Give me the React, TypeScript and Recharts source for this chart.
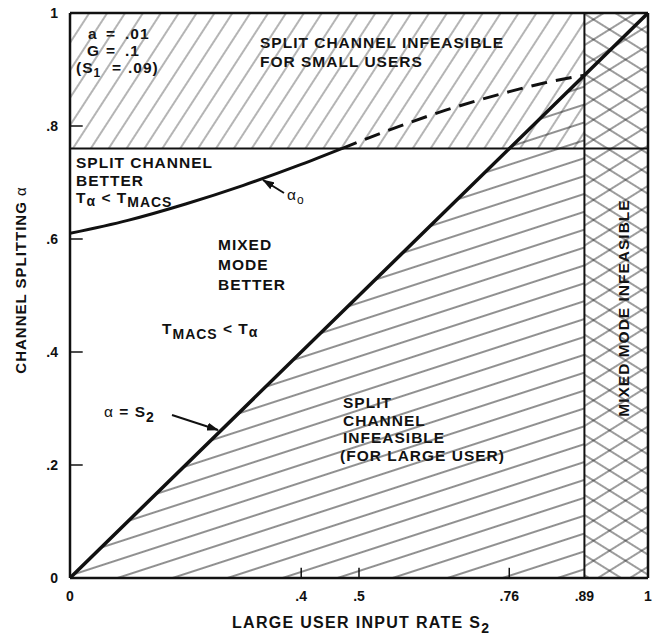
import { ComposedChart, Line, Area, XAxis, YAxis, ReferenceArea, ReferenceLine } from "recharts";

// tick positions and their printed labels
const xTicks = [0, 0.4, 0.5, 0.76, 0.89, 1];
const xTickLabels = ["0", ".4", ".5", ".76", ".89", "1"];
const yTicks = [0, 0.2, 0.4, 0.6, 0.8, 1];
const yTickLabels = ["0", ".2", ".4", ".6", ".8", "1"];

// alpha_0 curve, solid part (below alpha = .76)
const alphaSolidX = [0, 0.1, 0.2, 0.3, 0.4, 0.47];
const alphaSolidY = [0.61, 0.633, 0.662, 0.695, 0.732, 0.76];
// alpha_0 curve, dashed part (inside the infeasible band)
const alphaDashX = [0.47, 0.55, 0.65, 0.75, 0.82, 0.89];
const alphaDashY = [0.76, 0.792, 0.828, 0.858, 0.876, 0.89];

// alpha = S2 line
const s2X = [0, 0.89, 1];
const s2Y = [0, 0.89, 1];

// region limits
const alphaLimit = 0.76;
const s2Limit = 0.89;

const toPts = (xs: number[], ys: number[]) => xs.map((x, i) => ({ x, y: ys[i] }));
const alphaSolid = toPts(alphaSolidX, alphaSolidY);
const alphaDash = toPts(alphaDashX, alphaDashY);
const s2Line = toPts(s2X, s2Y);
const s2Hatch = s2Line.filter((p) => p.x <= s2Limit);

const FONT = "'Liberation Sans', Arial, Helvetica, sans-serif";
const txt = { fontFamily: FONT, fontWeight: 700, fontSize: 15.5, fill: "#111", letterSpacing: 1 } as const;
const sub = (s: string, size = 12, shift = 4) => (
  <tspan baselineShift={-shift} fontSize={size}>{s}</tspan>
);

export default function App() {
  return (
    <div style={{ position: "absolute", left: 0, top: 0, width: 660, height: 642, background: "#fff" }}>
      <ComposedChart width={660} height={642} margin={{ top: 13, right: 12, left: 0, bottom: 0 }}>
        <defs>
          <pattern id="steep" patternUnits="userSpaceOnUse" width="15" height="15" patternTransform="rotate(33)">
            <line x1="7" y1="0" x2="7" y2="15" stroke="#444" strokeWidth="0.8" />
          </pattern>
          <pattern id="shallow" patternUnits="userSpaceOnUse" width="17" height="17" patternTransform="rotate(-18)">
            <line x1="0" y1="8" x2="17" y2="8" stroke="#222" strokeWidth="1" />
          </pattern>
          <pattern id="crossA" patternUnits="userSpaceOnUse" width="17" height="17" patternTransform="rotate(-32)">
            <line x1="0" y1="8" x2="17" y2="8" stroke="#222" strokeWidth="0.9" />
          </pattern>
          <pattern id="crossB" patternUnits="userSpaceOnUse" width="17" height="17" patternTransform="rotate(32)">
            <line x1="0" y1="8" x2="17" y2="8" stroke="#222" strokeWidth="0.9" />
          </pattern>
          <marker id="arrow" markerWidth="12" markerHeight="8" refX="11" refY="4" orient="auto" markerUnits="userSpaceOnUse">
            <path d="M0,0 L12,4 L0,8 z" fill="#111" />
          </marker>
        </defs>

        <XAxis
          type="number"
          dataKey="x"
          domain={[0, 1]}
          ticks={xTicks}
          tickFormatter={(v: number) => xTickLabels[xTicks.indexOf(v)]}
          height={64}
          tickSize={0}
          tickMargin={13}
          axisLine={{ stroke: "#111", strokeWidth: 2.5 }}
          tick={{ fill: "#111", fontSize: 14, fontWeight: 700, fontFamily: FONT }}
          allowDataOverflow
        />
        <YAxis
          type="number"
          dataKey="y"
          domain={[0, 1]}
          ticks={yTicks}
          tickFormatter={(v: number) => yTickLabels[yTicks.indexOf(v)]}
          width={70}
          tickSize={0}
          tickMargin={12}
          axisLine={{ stroke: "#111", strokeWidth: 2.5 }}
          tick={{ fill: "#111", fontSize: 14, fontWeight: 700, fontFamily: FONT }}
          allowDataOverflow
        />

        {/* hatched regions */}
        <ReferenceArea x1={0} x2={s2Limit} y1={alphaLimit} y2={1} fill="url(#steep)" fillOpacity={1} stroke="none" />
        <ReferenceArea x1={s2Limit} x2={1} y1={0} y2={1} fill="url(#crossA)" fillOpacity={1} stroke="none" />
        <ReferenceArea x1={s2Limit} x2={1} y1={0} y2={1} fill="url(#crossB)" fillOpacity={1} stroke="none" />
        <Area
          data={s2Hatch}
          dataKey="y"
          type="linear"
          baseValue={0}
          stroke="none"
          fill="url(#shallow)"
          fillOpacity={1}
          isAnimationActive={false}
          dot={false}
          activeDot={false}
        />

        {/* frame and boundaries */}
        <ReferenceLine y={1} stroke="#111" strokeWidth={2.5} />
        <ReferenceLine x={1} stroke="#111" strokeWidth={2.5} />
        <ReferenceLine y={alphaLimit} stroke="#111" strokeWidth={2} />
        <ReferenceLine x={s2Limit} stroke="#111" strokeWidth={2} />

        {/* inward tick marks */}
        {yTicks.slice(1, 5).map((t) => (
          <ReferenceLine key={"yt" + t} segment={[{ x: 0, y: t }, { x: 0.022, y: t }]} stroke="#111" strokeWidth={1.5} />
        ))}
        {xTicks.slice(1, 4).map((t) => (
          <ReferenceLine key={"xt" + t} segment={[{ x: t, y: 0 }, { x: t, y: 0.018 }]} stroke="#111" strokeWidth={1.5} />
        ))}

        <Line data={s2Line} dataKey="y" type="linear" stroke="#111" strokeWidth={3.5} dot={false} activeDot={false} isAnimationActive={false} />
        <Line data={alphaSolid} dataKey="y" type="monotone" stroke="#111" strokeWidth={3} dot={false} activeDot={false} isAnimationActive={false} />
        <Line data={alphaDash} dataKey="y" type="monotone" stroke="#111" strokeWidth={3} strokeDasharray="16 9" dot={false} activeDot={false} isAnimationActive={false} />

        {/* annotations */}
        <text {...txt}>
          <tspan x={88} y={39}>a</tspan>
          <tspan x={106}>=</tspan>
          <tspan x={125}>.01</tspan>
        </text>
        <text {...txt}>
          <tspan x={87} y={56}>G</tspan>
          <tspan x={106}>=</tspan>
          <tspan x={125}>.1</tspan>
        </text>
        <text {...txt}>
          <tspan x={76} y={73}>(S</tspan>
          {sub("1")}
          <tspan x={112}>=</tspan>
          <tspan x={128}>.09)</tspan>
        </text>

        <text {...txt} x={260} y={48}>SPLIT CHANNEL INFEASIBLE</text>
        <text {...txt} x={260} y={67}>FOR SMALL USERS</text>

        <text {...txt} x={76} y={168}>SPLIT CHANNEL</text>
        <text {...txt} x={76} y={186}>BETTER</text>
        <text {...txt} x={76} y={203}>
          T{sub("α", 14, 3)} &lt; T{sub("MACS", 14, 4)}
        </text>

        <line x1={284} y1={193} x2={263} y2={180} stroke="#111" strokeWidth={2} markerEnd="url(#arrow)" />
        <text {...txt} x={287} y={200} fontWeight={400}>
          α{sub("o", 12, 4)}
        </text>

        <text {...txt} x={218} y={250}>MIXED</text>
        <text {...txt} x={218} y={270}>MODE</text>
        <text {...txt} x={218} y={290}>BETTER</text>

        <text {...txt} x={162} y={334}>
          T{sub("MACS", 14, 5)} &lt; T{sub("α", 14, 3)}
        </text>

        <text {...txt} x={104} y={417}>
          <tspan fontWeight={400}>α</tspan> = S{sub("2", 14, 5)}
        </text>
        <line x1={172} y1={415} x2={218} y2={430} stroke="#111" strokeWidth={2} markerEnd="url(#arrow)" />

        <text {...txt} x={343} y={408}>SPLIT</text>
        <text {...txt} x={343} y={426}>CHANNEL</text>
        <text {...txt} x={343} y={443}>INFEASIBLE</text>
        <text {...txt} x={340} y={461}>(FOR LARGE USER)</text>

        <text {...txt} x={623} y={308} textAnchor="middle" dominantBaseline="central" transform="rotate(-90 623 308)">
          MIXED MODE INFEASIBLE
        </text>

        <text {...txt} fontSize={15} x={20} y={280} textAnchor="middle" dominantBaseline="central" transform="rotate(-90 20 280)">
          CHANNEL SPLITTING <tspan fontWeight={400}>α</tspan>
        </text>

        <text {...txt} fontSize={16} letterSpacing={1.3} x={232} y={628}>
          LARGE USER INPUT RATE S{sub("2", 14, 5)}
        </text>
      </ComposedChart>
    </div>
  );
}
